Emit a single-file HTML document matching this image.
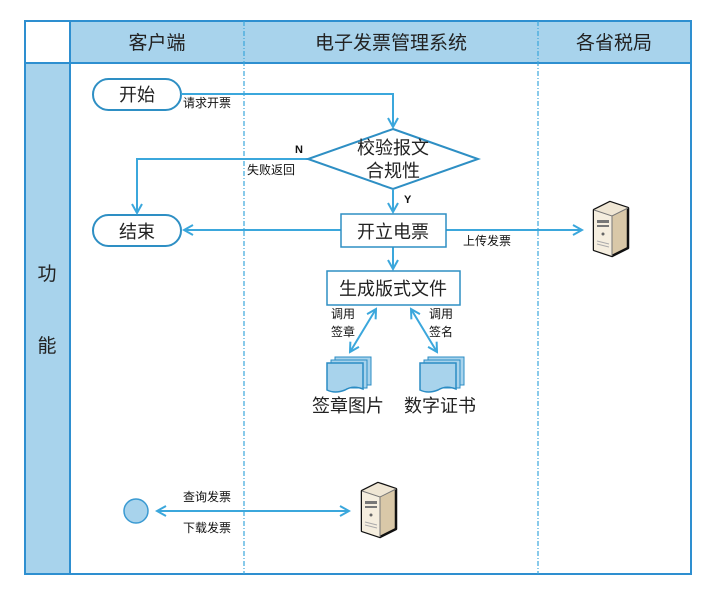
<!DOCTYPE html>
<html><head><meta charset="utf-8"><style>
body{margin:0;background:#fff;}
svg text{font-family:"Liberation Sans","Noto Sans CJK SC",sans-serif;}
</style></head><body>
<svg width="712" height="602" viewBox="0 0 712 602" xmlns="http://www.w3.org/2000/svg">
<defs>
<marker id="a" markerWidth="12" markerHeight="12" refX="10" refY="6" orient="auto-start-reverse" markerUnits="userSpaceOnUse">
<path d="M1,1 L10,6 L1,11" fill="none" stroke="#3ba7dc" stroke-width="2"/></marker>
<g id="srv">
<path d="M6,8 L22,0 L40,6 L40,46 L24,54 L6,48 Z" fill="#d9c8a8" stroke="#111" stroke-width="2.5" stroke-linejoin="round"/>
<path d="M6,8 L24,14 L40,6 L22,0 Z" fill="#efe6d4"/>
<path d="M6,8 L24,14 L24,54 L6,48 Z" fill="#f5eedf"/>
<path d="M6,8 L24,14 L40,6 M24,14 L24,54" fill="none" stroke="#777" stroke-width="1"/>
<rect x="9" y="18" width="12" height="3" fill="#777"/><rect x="9" y="23" width="12" height="2" fill="#777"/>
<circle cx="15" cy="32" r="1.5" fill="#666"/>
<path d="M9,39 L21,42 M9,42 L21,45" stroke="#aaa"/>
</g>
<g id="doc">
<rect x="8" y="0" width="36" height="28" fill="#a8d3ec" stroke="#2b8cc4"/>
<rect x="4" y="3" width="36" height="28" fill="#a8d3ec" stroke="#2b8cc4"/>
<path d="M0,6 L36,6 L36,32 Q26,28 18,33 Q8,37 0,33 Z" fill="#a8d3ec" stroke="#2b8cc4" stroke-width="1.5"/>
</g>
</defs>
<rect x="25" y="21" width="666" height="553" fill="#fff"/>
<rect x="70" y="21" width="621" height="42" fill="#a8d3ec"/>
<rect x="25" y="63" width="45" height="511" fill="#a8d3ec"/>
<rect x="25" y="21" width="666" height="553" fill="none" stroke="#2e8fd0" stroke-width="2"/>
<line x1="70" y1="21" x2="70" y2="574" stroke="#2e8fd0" stroke-width="2"/>
<line x1="25" y1="63" x2="691" y2="63" stroke="#2e8fd0" stroke-width="2"/>
<line x1="244" y1="21" x2="244" y2="574" stroke="#3ba7dc" stroke-width="1.2" stroke-dasharray="5,2,1,2"/>
<line x1="538" y1="21" x2="538" y2="574" stroke="#3ba7dc" stroke-width="1.2" stroke-dasharray="5,2,1,2"/>
<g font-size="19" fill="#222" text-anchor="middle">
<text x="157" y="49">客户端</text><text x="391" y="49">电子发票管理系统</text><text x="614" y="49">各省税局</text>
<text x="47" y="280">功</text><text x="47" y="352">能</text>
</g>
<rect x="93" y="79" width="88" height="31" rx="15.5" fill="#fff" stroke="#2e8fc4" stroke-width="2"/>
<rect x="93" y="215" width="88" height="31" rx="15.5" fill="#fff" stroke="#2e8fc4" stroke-width="2"/>
<g font-size="18" fill="#222" text-anchor="middle">
<text x="137" y="101">开始</text><text x="137" y="238">结束</text>
</g>
<g stroke="#3ba7dc" stroke-width="2" fill="none">
<path d="M181,94 L393,94 L393,127" marker-end="url(#a)"/>
<path d="M308,159 L137,159 L137,213" marker-end="url(#a)"/>
<path d="M393,190 L393,212" marker-end="url(#a)"/>
<path d="M341,230 L184,230" marker-end="url(#a)"/>
<path d="M446,230 L582,230" marker-end="url(#a)"/>
<path d="M393,247 L393,269" marker-end="url(#a)"/>
<path d="M376,309 L350,352" marker-start="url(#a)" marker-end="url(#a)"/>
<path d="M411,309 L437,352" marker-start="url(#a)" marker-end="url(#a)"/>
<path d="M157,511 L349,511" marker-start="url(#a)" marker-end="url(#a)"/>
</g>
<path d="M393,129 L478,159 L393,189 L308,159 Z" fill="#fff" stroke="#2e8fc4" stroke-width="2"/>
<g font-size="18" fill="#222" text-anchor="middle">
<text x="393" y="154">校验报文</text><text x="393" y="177">合规性</text>
</g>
<rect x="341" y="214" width="105" height="33" fill="#fff" stroke="#2e8fc4" stroke-width="1.5"/>
<text x="393" y="238" font-size="18" fill="#222" text-anchor="middle">开立电票</text>
<rect x="327" y="271" width="133" height="34" fill="#fff" stroke="#2e8fc4" stroke-width="1.5"/>
<text x="393" y="295" font-size="18" fill="#222" text-anchor="middle">生成版式文件</text>
<g font-size="12" fill="#111">
<text x="183" y="107">请求开票</text>
<text x="247" y="174">失败返回</text>
<text x="295" y="153" font-weight="bold" font-size="11">N</text>
<text x="404" y="203" font-weight="bold" font-size="11">Y</text>
<text x="463" y="245">上传发票</text>
<text x="331" y="318">调用</text><text x="331" y="336">签章</text>
<text x="429" y="318">调用</text><text x="429" y="336">签名</text>
<text x="183" y="501">查询发票</text><text x="183" y="532">下载发票</text>
</g>
<use href="#doc" x="327" y="357"/>
<use href="#doc" x="420" y="357"/>
<g font-size="18" fill="#222" text-anchor="middle">
<text x="348" y="412">签章图片</text><text x="440" y="412">数字证书</text>
</g>
<use href="#srv" x="588" y="202"/>
<use href="#srv" x="356" y="483"/>
<circle cx="136" cy="511" r="12" fill="#a8d3ec" stroke="#3a9ad2" stroke-width="1.5"/>
</svg>
</body></html>
